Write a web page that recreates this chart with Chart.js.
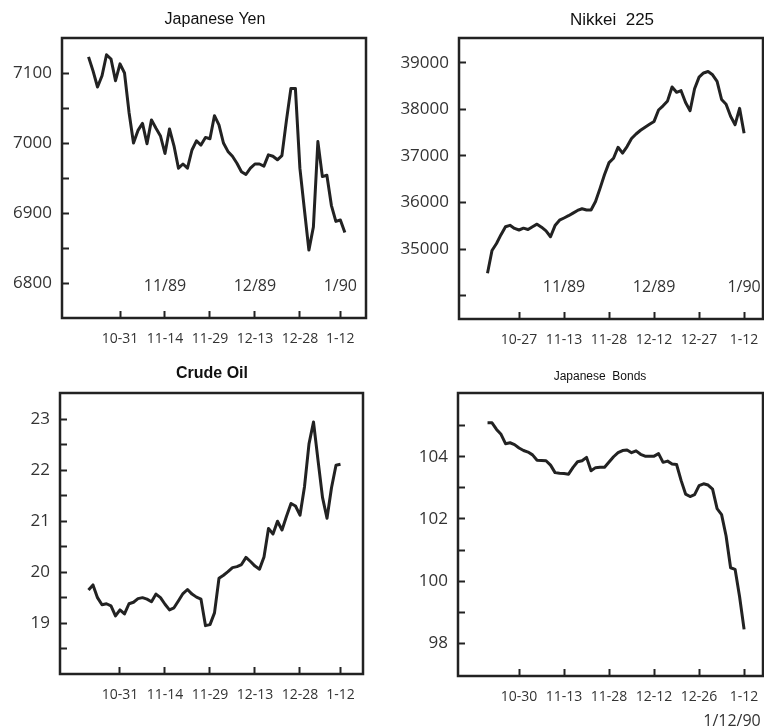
<!DOCTYPE html>
<html>
<head>
<meta charset="utf-8">
<script src="https://cdn.jsdelivr.net/npm/chart.js@4.4.0/dist/chart.umd.min.js"></script>
<style>
  html, body { margin: 0; padding: 0; background: #fff; }
  #wrap { position: relative; width: 764px; height: 727px; overflow: hidden; }
  canvas { position: absolute; }
</style>
</head>
<body>
<div id="wrap">
  <canvas id="c-yen" width="382" height="360" style="left:0;top:0"></canvas>
  <canvas id="c-nikkei" width="382" height="360" style="left:382px;top:0"></canvas>
  <canvas id="c-oil" width="382" height="367" style="left:0;top:360px"></canvas>
  <canvas id="c-bonds" width="382" height="367" style="left:382px;top:360px"></canvas>
</div>
<script>
/* ---- data (one value per trading day) ---- */
const yenValues = [7123,7103,7080,7096,7126,7120,7089,7113,7100,7044,
  7000,7018,7028,6999,7033,7021,7010,6985,7020,6996,
  6964,6970,6964,6990,7003,6997,7008,7006,7039,7026,
  7000,6988,6981,6971,6959,6955,6964,6970,6970,6967,
  6983,6981,6976,6982,7032,7078,7078,6964,6905,6847,
  6880,7002,6952,6954,6911,6888,6890,6872];
const yenTickAt = [7, 17, 27, 37, 47, 56];
const yenTickLabels = ['10-31', '11-14', '11-29', '12-13', '12-28', '1-12'];
const yenMonthAt = [17, 37, 56];
const yenYTicks = [6800, 6850, 6900, 6950, 7000, 7050, 7100];
const yenYLabeled = [6800, 6900, 7000, 7100];

const nikkeiValues = [34480,34970,35120,35310,35480,35510,35444,35410,35450,35420,
  35480,35535,35470,35390,35265,35505,35620,35668,35717,35773,
  35829,35866,35840,35838,36020,36303,36600,36855,36950,37185,
  37060,37200,37372,37470,37550,37617,37680,37740,37985,38075,
  38180,38480,38365,38400,38145,37970,38440,38690,38780,38810,
  38740,38600,38210,38110,37850,37670,38020,37485];
const nikkeiTickAt = [7, 17, 27, 37, 47, 57];
const nikkeiTickLabels = ['10-27', '11-13', '11-28', '12-12', '12-27', '1-12'];
const nikkeiMonthAt = [17, 37, 57];
const nikkeiYTicks = [34000, 35000, 36000, 37000, 38000, 39000];
const nikkeiYLabeled = [35000, 36000, 37000, 38000, 39000];

const monthLabels = ['11/89', '12/89', '1/90'];

const oilValues = [19.65,19.75,19.50,19.36,19.38,19.34,19.14,19.26,19.18,19.38,
  19.41,19.48,19.50,19.47,19.42,19.57,19.50,19.37,19.26,19.30,
  19.44,19.58,19.66,19.57,19.51,19.47,18.95,18.97,19.20,19.88,
  19.94,20.01,20.09,20.11,20.15,20.29,20.21,20.12,20.06,20.30,
  20.86,20.75,21.00,20.83,21.10,21.35,21.30,21.12,21.68,22.52,
  22.95,22.20,21.47,21.06,21.66,22.10,22.12];
const oilTickAt = [7, 17, 27, 37, 47, 56];
const oilTickLabels = ['10-31', '11-14', '11-29', '12-13', '12-28', '1-12'];
const oilYTicks = [18.5, 19, 19.5, 20, 20.5, 21, 21.5, 22, 22.5, 23];
const oilYLabeled = [19, 20, 21, 22, 23];

const bondValues = [105.09,105.09,104.88,104.72,104.42,104.45,104.39,104.28,104.20,104.15,
  104.06,103.89,103.88,103.87,103.73,103.49,103.47,103.46,103.44,103.66,
  103.84,103.87,103.98,103.55,103.65,103.66,103.66,103.83,104.00,104.13,
  104.20,104.22,104.13,104.19,104.08,104.02,104.02,104.02,104.10,103.82,
  103.86,103.77,103.75,103.24,102.80,102.72,102.78,103.07,103.13,103.09,
  102.96,102.33,102.14,101.45,100.43,100.38,99.50,98.45];
const bondTickAt = [7, 17, 27, 37, 47, 57];
const bondTickLabels = ['10-30', '11-13', '11-28', '12-12', '12-26', '1-12'];
const bondYTicks = [98, 99, 100, 101, 102, 103, 104, 105];
const bondYLabeled = [98, 100, 102, 104];

const INK = '#222';
const TEXT = '#333';
const TICK_FONT = '"Open Sans", "DejaVu Sans", sans-serif';
const TITLE_FONT = '"Liberation Sans", Arial, sans-serif';

// frame, title, month labels and footer
const panelDeco = {
  id: 'panelDeco',
  afterDraw(chart, args, o) {
    const { ctx, chartArea: a, scales } = chart;
    ctx.save();
    ctx.strokeStyle = INK;
    ctx.lineWidth = 2.5;
    ctx.strokeRect(a.left, a.top, a.right - a.left, a.bottom - a.top);
    ctx.textAlign = 'center';
    ctx.textBaseline = 'middle';
    ctx.fillStyle = '#111';
    ctx.font = o.titleFont;
    ctx.fillText(o.title, o.titleX, o.titleY);
    if (o.monthAt) {
      ctx.font = '16px ' + TICK_FONT;
      ctx.fillStyle = TEXT;
      o.monthAt.forEach((v, i) => {
        ctx.fillText(monthLabels[i], scales.x.getPixelForValue(v), a.bottom - 32);
      });
    }
    if (o.footer) {
      ctx.font = '16px ' + TICK_FONT;
      ctx.fillStyle = TEXT;
      ctx.fillText(o.footer, o.footerX, o.footerY);
    }
    ctx.restore();
  }
};

function noPad(s) {
  s.paddingLeft = 0; s.paddingRight = 0; s.paddingTop = 0; s.paddingBottom = 0;
}

function makePanel(id, p) {
  const cv = document.getElementById(id);
  const W = cv.width, H = cv.height;
  return new Chart(cv, {
    type: 'line',
    data: {
      datasets: [{
        data: p.values.map((v, i) => ({ x: i, y: v })),
        borderColor: INK,
        borderWidth: 3,
        borderJoinStyle: 'round',
        pointRadius: 0,
        tension: 0
      }]
    },
    options: {
      responsive: false,
      animation: false,
      layout: { autoPadding: false, padding: { left: 0, top: p.box[1], right: W - p.box[2], bottom: 0 } },
      plugins: {
        legend: { display: false },
        tooltip: { enabled: false },
        panelDeco: p.deco
      },
      scales: {
        x: {
          type: 'linear',
          min: p.xMin, max: p.xMax,
          afterBuildTicks: s => { s.ticks = p.tickAt.map(v => ({ value: v })); },
          afterFit: s => { s.height = H - p.box[3]; noPad(s); },
          border: { display: false },
          grid: { drawOnChartArea: false, drawTicks: true, tickLength: -7, tickWidth: 2, tickColor: INK },
          ticks: {
            autoSkip: false, maxRotation: 0, padding: 20, color: TEXT,
            font: { family: TICK_FONT, size: 14 },
            callback: (v, i) => p.tickLabels[i]
          }
        },
        y: {
          min: p.yMin, max: p.yMax,
          afterBuildTicks: s => { s.ticks = p.yTicks.map(v => ({ value: v })); },
          afterFit: s => { s.width = p.box[0]; noPad(s); },
          border: { display: false },
          grid: { drawOnChartArea: false, drawTicks: true, tickLength: -7, tickWidth: 2, tickColor: INK },
          ticks: {
            autoSkip: false, padding: 17, color: TEXT,
            font: { family: TICK_FONT, size: 17 },
            callback: (v, i) => (p.yLabeled.includes(p.yTicks[i]) ? String(p.yTicks[i]) : '')
          }
        }
      }
    },
    plugins: [panelDeco]
  });
}

makePanel('c-yen', {
  values: yenValues, tickAt: yenTickAt, tickLabels: yenTickLabels,
  yTicks: yenYTicks, yLabeled: yenYLabeled,
  box: [62, 38, 366, 318], xMin: -5.9, xMax: 61.7,
  yMin: 6750, yMax: 7150,
  deco: { title: 'Japanese Yen', titleFont: '16px ' + TITLE_FONT, titleX: 215, titleY: 20, monthAt: yenMonthAt }
});

makePanel('c-nikkei', {
  values: nikkeiValues, tickAt: nikkeiTickAt, tickLabels: nikkeiTickLabels,
  yTicks: nikkeiYTicks, yLabeled: nikkeiYLabeled,
  box: [77, 38, 381, 319], xMin: -6.33, xMax: 61.2,
  yMin: 33500, yMax: 39530,
  deco: { title: 'Nikkei  225', titleFont: '17px ' + TITLE_FONT, titleX: 230, titleY: 20, monthAt: nikkeiMonthAt }
});

makePanel('c-oil', {
  values: oilValues, tickAt: oilTickAt, tickLabels: oilTickLabels,
  yTicks: oilYTicks, yLabeled: oilYLabeled,
  box: [60, 33, 363, 314], xMin: -6.33, xMax: 61.0,
  yMin: 18, yMax: 23.52,
  deco: { title: 'Crude Oil', titleFont: 'bold 16px ' + TITLE_FONT, titleX: 212, titleY: 14 }
});

makePanel('c-bonds', {
  values: bondValues, tickAt: bondTickAt, tickLabels: bondTickLabels,
  yTicks: bondYTicks, yLabeled: bondYLabeled,
  box: [76, 33, 381, 316], xMin: -6.56, xMax: 61.2,
  yMin: 96.95, yMax: 106.05,
  deco: { title: 'Japanese  Bonds', titleFont: '12px ' + TITLE_FONT, titleX: 218, titleY: 17,
          footer: '1/12/90', footerX: 350, footerY: 361 }
});
</script>
</body>
</html>
